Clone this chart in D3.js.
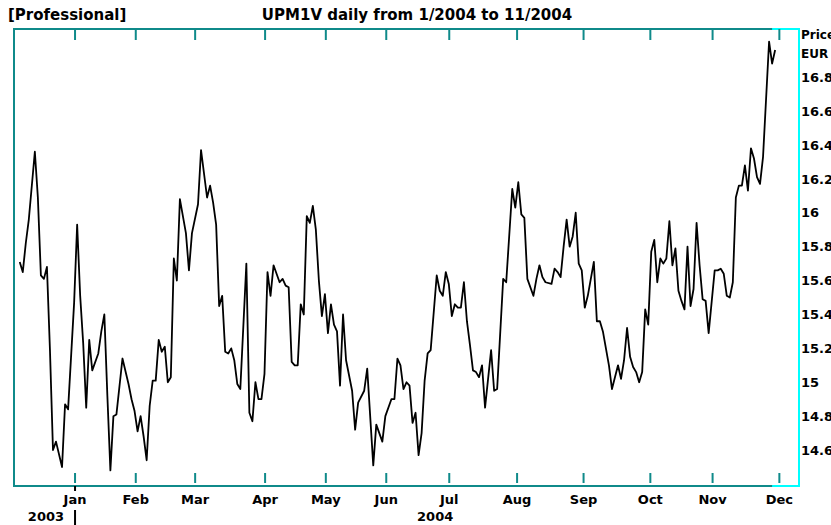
<!DOCTYPE html>
<html>
<head>
<meta charset="utf-8">
<script src="https://cdn.jsdelivr.net/npm/d3@7"></script>
<style>
  body { margin: 0; background: #fff; }
  text { font-family: "DejaVu Sans", Verdana, sans-serif; font-weight: bold; fill: #000; }
</style>
</head>
<body>
<div id="chart"></div>
<script>
// trading-day index and closing price
const dayIdx = [0,1,2,3,5,6,7,8,9,10,11,12,14,15,16,18,19,20,21,22,23,24,26,27,28,29,30,31,32,34,36,37,38,39,40,41,42,43,44,45,46,47,48,49,50,51,52,53,55,56,57,59,60,62,63,64,
  65,66,67,68,69,70,71,72,73,75,76,77,78,79,80,81,82,83,84,86,87,88,89,90,91,92,93,94,95,96,97,98,99,100,101,102,103,104,105,106,107,108,110,111,112,114,115,117,118,120,121,123,124,125,126,
  127,128,129,130,131,132,133,134,135,136,138,139,140,141,142,143,144,145,146,147,148,149,150,151,152,153,154,156,157,158,160,161,163,164,165,166,167,168,170,171,172,173,174,176,177,178,179,180,181,182,183,184,185,186,187,188,
  190,191,192,193,195,196,198,199,200,201,202,203,204,205,206,207,208,209,210,211,212,213,214,215,216,217,218,219,220,221,222,223,224,225,226,227,228,230,231,232,233,234,235,236,237,238,239,240,241,242,243,244,245,246,248,249,250];
const price = [15.71,15.65,15.82,15.96,16.36,16.09,15.63,15.61,15.68,15.19,14.60,14.65,14.50,14.87,14.84,15.47,15.93,15.51,15.23,14.85,15.25,15.07,15.17,15.30,15.40,14.92,14.48,14.80,14.81,15.14,14.99,14.90,14.83,14.71,14.80,14.68,14.54,14.86,15.01,15.01,15.25,15.18,15.21,15.00,15.03,15.73,15.60,16.08,15.88,15.66,15.88,16.05,16.37,16.09,16.16,16.06,
  15.93,15.45,15.51,15.18,15.17,15.20,15.13,14.99,14.96,15.70,14.82,14.77,15.00,14.90,14.90,15.05,15.65,15.51,15.69,15.59,15.61,15.57,15.56,15.12,15.10,15.10,15.46,15.40,15.98,15.94,16.04,15.90,15.60,15.39,15.52,15.29,15.46,15.34,15.30,14.98,15.40,15.13,14.95,14.72,14.88,14.95,15.08,14.51,14.75,14.65,14.80,14.90,14.90,15.14,15.10,
  14.96,15.00,14.98,14.76,14.82,14.57,14.70,15.01,15.17,15.19,15.63,15.54,15.51,15.65,15.58,15.39,15.46,15.44,15.44,15.59,15.36,15.22,15.07,15.06,15.03,15.10,14.85,15.19,14.95,14.96,15.61,15.59,16.14,16.03,16.18,15.99,15.97,15.61,15.51,15.61,15.69,15.62,15.59,15.58,15.67,15.65,15.62,15.80,15.96,15.80,15.86,16.00,15.70,15.66,15.44,15.51,
  15.71,15.36,15.36,15.30,15.10,14.96,15.10,15.02,15.13,15.32,15.15,15.09,15.06,15.00,15.06,15.43,15.34,15.77,15.84,15.59,15.73,15.70,15.73,15.95,15.69,15.79,15.54,15.48,15.43,15.80,15.45,15.55,15.94,15.69,15.49,15.48,15.29,15.66,15.66,15.67,15.64,15.51,15.50,15.59,16.09,16.16,16.16,16.28,16.13,16.38,16.32,16.21,16.17,16.33,17.01,16.88,16.96];

const monthLabels = ["Jan","Feb","Mar","Apr","May","Jun","Jul","Aug","Sep","Oct","Nov","Dec"];
const monthPos = [18.3,38.4,58.05,81.2,101.3,121.3,142.15,164.6,186.6,208.7,229.3,251.4];
const yTicks = [14.6,14.8,15,15.2,15.4,15.6,15.8,16,16.2,16.4,16.6,16.8];
const yearLabels = [{label: "2003", pos: 18.3}, {label: "2004", pos: 142.15}];

const margin = { top: 29, right: 32, bottom: 39, left: 14 };
const width = 831 - margin.left - margin.right;
const height = 525 - margin.top - margin.bottom;
const teal = "#0f8a8a";

const svg0 = d3.select("#chart")
    .append("svg")
    .attr("width", 831)
    .attr("height", 525);

svg0.append("text")
    .attr("x", 8)
    .attr("y", 20)
    .style("font-size", "15px")
    .text("[Professional]");

svg0.append("text")
    .attr("x", 417)
    .attr("y", 20)
    .style("font-size", "15px")
    .style("text-anchor", "middle")
    .text("UPM1V daily from 1/2004 to 11/2004");

const svg = svg0.append("g")
    .attr("transform", `translate(${margin.left},${margin.top})`);

const x = d3.scaleLinear().domain([-1.9, 257.9]).range([0, width]);
const y = d3.scaleLinear().domain([14.388, 17.084]).range([height, 0]);

const data = dayIdx.map((d, i) => ({ i: d, v: price[i] }));

// frame: cyan box, teal axes over it
svg.append("rect")
    .attr("width", width)
    .attr("height", height)
    .attr("fill", "none")
    .attr("stroke", "#00ffff")
    .attr("stroke-width", 2);

const tealEnd = x(249);
svg.append("path")
    .attr("d", `M${tealEnd},0H0V${height}H${tealEnd}`)
    .attr("fill", "none")
    .attr("stroke", teal)
    .attr("stroke-width", 2);

// month ticks top and bottom
svg.selectAll(".tt").data(monthPos).join("line")
    .attr("x1", d => x(d)).attr("x2", d => x(d))
    .attr("y1", 0).attr("y2", 11)
    .attr("stroke", teal).attr("stroke-width", 2);
svg.selectAll(".tb").data(monthPos).join("line")
    .attr("class", "tb")
    .attr("x1", d => x(d)).attr("x2", d => x(d))
    .attr("y1", height - 13).attr("y2", height - 3)
    .attr("stroke", teal).attr("stroke-width", 2);

// price line
svg.append("path")
    .datum(data)
    .attr("fill", "none")
    .attr("stroke", "#000")
    .attr("stroke-width", 1.8)
    .attr("stroke-linejoin", "round")
    .attr("d", d3.line().x(d => x(d.i)).y(d => y(d.v)));

// right axis
const yAxis = svg.append("g")
    .attr("transform", `translate(${width},0)`)
    .call(d3.axisRight(y).tickValues(yTicks).tickSize(0).tickPadding(2)
        .tickFormat(d => String(+d.toFixed(1))));
yAxis.select(".domain").remove();
yAxis.selectAll("text")
    .style("font-size", "13px")
    .style("font-family", "DejaVu Sans, Verdana, sans-serif")
    .style("font-weight", "bold")
    .attr("fill", "#000");

svg.append("text")
    .attr("x", width + 2).attr("y", 10)
    .style("font-size", "12px")
    .text("Price");
svg.append("text")
    .attr("x", width + 2).attr("y", 29)
    .style("font-size", "12px")
    .text("EUR");

// month labels
svg.selectAll(".ml").data(monthPos).join("text")
    .attr("x", d => x(d))
    .attr("y", height + 18)
    .style("font-size", "13px")
    .style("text-anchor", "middle")
    .text((d, i) => monthLabels[i]);

// year labels and separator
svg.append("line")
    .attr("x1", x(yearLabels[0].pos)).attr("x2", x(yearLabels[0].pos))
    .attr("y1", height).attr("y2", height + 5)
    .attr("stroke", "#000").attr("stroke-width", 2);
svg.append("line")
    .attr("x1", x(yearLabels[0].pos)).attr("x2", x(yearLabels[0].pos))
    .attr("y1", height + 24).attr("y2", height + 39)
    .attr("stroke", "#000").attr("stroke-width", 2);

svg.append("text")
    .attr("x", x(yearLabels[0].pos) - 11)
    .attr("y", height + 35)
    .style("font-size", "13px")
    .style("text-anchor", "end")
    .text(yearLabels[0].label);
svg.append("text")
    .attr("x", x(yearLabels[1].pos) + 4)
    .attr("y", height + 35)
    .style("font-size", "13px")
    .style("text-anchor", "end")
    .text(yearLabels[1].label);
</script>
</body>
</html>
